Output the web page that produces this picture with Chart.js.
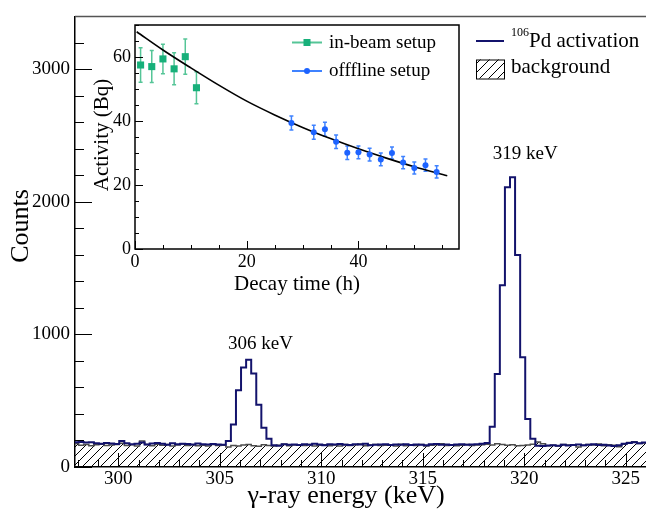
<!DOCTYPE html>
<html>
<head>
<meta charset="utf-8">
<script src="https://cdn.jsdelivr.net/npm/chart.js@4.4.1/dist/chart.umd.min.js"></script>
<style>
  html, body { margin: 0; padding: 0; background: #fff; }
  #wrap { position: relative; width: 646px; height: 512px; }
  canvas { position: absolute; left: 0; top: 0; }
</style>
</head>
<body>
<div id="wrap">
  <canvas id="spectrum" width="646" height="512"></canvas>
  <canvas id="decay" width="646" height="512"></canvas>
</div>
<script>
// gamma spectrum, 0.25 keV bins
const binLow = 297.8;
const binWidth = 0.25;
const activationCounts = [
  186, 188, 184, 187, 180, 176, 182, 178, 174,
  196, 180, 172, 176, 184, 170, 178, 181,
  175, 168, 180, 172, 176, 174, 170, 177,
  172, 169, 174, 170, 168,
  196, 321, 580, 750, 810, 705, 470, 296, 214,
  165, 160, 172, 168, 170, 166, 172, 168, 175, 170, 165, 172,
  170, 174, 168, 166, 172, 170, 176, 164, 168, 170, 172, 166, 170, 168,
  172, 166, 170, 168, 165, 172, 174, 168, 170, 166, 170, 172, 168, 170, 172, 175,
  181, 303, 702, 1372, 2111, 2186, 1599, 828, 363, 214, 160,
  158, 162, 165, 160, 168, 163, 166, 170, 164, 168, 172, 166, 168, 162, 158, 165, 176, 182, 186, 180, 184
];
const backgroundCounts = [
  178, 165, 170, 160, 168, 172, 162, 166, 170,
  180, 162, 168, 158, 196, 170, 160, 172,
  164, 170, 158, 166, 174, 162, 168, 160,
  165, 158, 170, 162, 164,
  150, 162, 158, 166, 170, 160, 156, 168, 162,
  158, 164, 172, 160, 166, 168, 162, 170, 158, 164, 168, 160,
  166, 158, 170, 162, 168, 174, 160, 166, 170, 162, 164, 168, 158, 172,
  160, 166, 162, 170, 158, 164, 168, 176, 162, 166, 160, 164, 170, 162, 166, 168,
  172, 166, 175, 170, 164, 168, 160, 162, 166, 172, 188,
  176, 160, 164, 158, 170, 166, 168, 150, 162, 170, 166, 174, 160, 168, 164, 152, 172, 184, 190, 178, 182
];
const energyTicks = [300, 305, 310, 315, 320, 325];
const countTicks = [0, 1000, 2000, 3000];

// decay curve inset
const inBeamTime = [1, 3, 5, 7, 9, 11];
const inBeamActivity = [57.5, 57.0, 59.4, 56.3, 60.1, 50.4];
const inBeamError = [5.4, 5.0, 4.6, 5.0, 5.5, 5.0];
const offlineTime = [28, 32, 34, 36, 38, 40, 42, 44, 46, 48, 50, 52, 54];
const offlineActivity = [39.4, 36.5, 37.4, 33.5, 30.1, 30.2, 29.5, 28.0, 30.0, 27.0, 25.3, 26.2, 24.1];
const offlineError = [2.2, 2.2, 2.2, 2.1, 2.1, 2.0, 2.0, 2.0, 1.9, 1.9, 1.9, 1.9, 1.9];
const fitTime = [0.3, 5, 10, 15, 20, 25, 30, 35, 40, 45, 50, 55.9];
const fitActivity = [67.9, 62.2, 56.6, 51.2, 46.2, 41.9, 38.0, 34.5, 31.3, 28.4, 25.7, 22.9];
const timeTicks = [0, 20, 40];
const activityTicks = [0, 20, 40, 60];

const SERIF = '"Liberation Serif", "Times New Roman", serif';
Chart.defaults.font.family = SERIF;
Chart.defaults.color = '#000';

const NAVY = '#13136c';
const GREEN = '#17b07a';
const BLUE = '#1d63ff';

const hatch = (() => {
  const s = 9;
  const c = document.createElement('canvas');
  c.width = c.height = s;
  const g = c.getContext('2d');
  g.strokeStyle = '#000';
  g.lineWidth = 1;
  g.beginPath();
  g.moveTo(0, s); g.lineTo(s, 0);
  g.moveTo(-1, 1); g.lineTo(1, -1);
  g.moveTo(s - 1, s + 1); g.lineTo(s + 1, s - 1);
  g.stroke();
  return g.createPattern(c, 'repeat');
})();

function histPoints(counts) {
  const pts = counts.map((c, i) => ({x: binLow + i * binWidth, y: c}));
  pts.push({x: binLow + counts.length * binWidth, y: counts[counts.length - 1]});
  return pts;
}

function xy(xs, ys) {
  return xs.map((v, i) => ({x: v, y: ys[i]}));
}

function fixedTicks(values) {
  return (scale) => { scale.ticks = values.map((v) => ({value: v})); };
}

const plainLabel = (v) => String(v);

// ROOT-like ticks pointing into the frame
const innerTicks = {
  id: 'innerTicks',
  afterDatasetsDraw(chart, args, o) {
    const {ctx, chartArea: a, scales: {x, y}} = chart;
    ctx.save();
    ctx.strokeStyle = '#000';
    ctx.lineWidth = 1;
    ctx.beginPath();
    for (let v = Math.ceil(x.min / o.xStep) * o.xStep; v <= x.max + 1e-6; v += o.xStep) {
      const p = Math.round(x.getPixelForValue(v)) + 0.5;
      const len = Math.abs(v % o.xMajor) < 1e-6 ? o.xMajorLen : o.xMinorLen;
      ctx.moveTo(p, a.bottom);
      ctx.lineTo(p, a.bottom - len);
    }
    for (let v = y.min; v <= y.max + 1e-6; v += o.yStep) {
      const p = Math.round(y.getPixelForValue(v)) + 0.5;
      const len = Math.abs(v % o.yMajor) < 1e-6 ? o.yMajorLen : o.yMinorLen;
      ctx.moveTo(a.left, p);
      ctx.lineTo(a.left + len, p);
    }
    ctx.stroke();
    if (o.frame) {
      ctx.lineWidth = 1.5;
      ctx.strokeRect(a.left, a.top, a.right - a.left, a.bottom - a.top);
    }
    if (o.topLine) {
      ctx.strokeStyle = '#555';
      ctx.lineWidth = 1.5;
      ctx.beginPath();
      ctx.moveTo(a.left, a.top);
      ctx.lineTo(a.right, a.top);
      ctx.stroke();
    }
    ctx.restore();
  }
};

// free text: axis titles and peak labels
const texts = {
  id: 'texts',
  afterDraw(chart, args, o) {
    const {ctx} = chart;
    ctx.save();
    ctx.fillStyle = '#000';
    ctx.textBaseline = 'alphabetic';
    o.items.forEach((t) => {
      ctx.save();
      ctx.font = `${t.size}px ${SERIF}`;
      ctx.translate(t.x, t.y);
      if (t.rotate) ctx.rotate(t.rotate);
      ctx.textAlign = 'center';
      ctx.fillText(t.text, 0, 0);
      ctx.restore();
    });
    ctx.restore();
  }
};

const spectrumLegend = {
  id: 'spectrumLegend',
  afterDraw(chart, args, o) {
    const {ctx} = chart;
    const [act, bkg] = chart.data.datasets;
    ctx.save();
    ctx.strokeStyle = act.borderColor;
    ctx.lineWidth = act.borderWidth;
    ctx.beginPath();
    ctx.moveTo(o.x, o.y1);
    ctx.lineTo(o.x + o.w, o.y1);
    ctx.stroke();
    ctx.fillStyle = bkg.backgroundColor;
    ctx.fillRect(o.x, o.y2 - o.h / 2, o.w, o.h);
    ctx.strokeStyle = '#000';
    ctx.lineWidth = 1;
    ctx.strokeRect(o.x + 0.5, o.y2 - o.h / 2 + 0.5, o.w, o.h);
    ctx.fillStyle = '#000';
    ctx.textAlign = 'left';
    ctx.textBaseline = 'alphabetic';
    const tx = o.x + o.w + 7;
    ctx.font = `12px ${SERIF}`;
    ctx.fillText(act.sup, tx, o.y1 - 5.5);
    const sw = ctx.measureText(act.sup).width;
    ctx.font = `21px ${SERIF}`;
    ctx.fillText(act.label, tx + sw, o.y1 + 5.5);
    ctx.fillText(bkg.label, tx, o.y2 + 4);
    ctx.restore();
  }
};

new Chart(document.getElementById('spectrum'), {
  type: 'line',
  data: {
    datasets: [
      {
        label: 'Pd activation',
        sup: '106',
        data: histPoints(activationCounts),
        stepped: true,
        borderColor: NAVY,
        borderWidth: 2,
        pointRadius: 0,
        fill: false,
        order: 0
      },
      {
        label: 'background',
        data: histPoints(backgroundCounts),
        stepped: true,
        borderColor: '#4d4d4d',
        borderWidth: 1.5,
        backgroundColor: hatch,
        pointRadius: 0,
        fill: 'origin',
        order: 1
      }
    ]
  },
  options: {
    responsive: false,
    animation: false,
    events: [],
    layout: {padding: {top: 11, right: 0, left: 0, bottom: 0}},
    scales: {
      x: {
        type: 'linear',
        min: 297.87,
        max: 326,
        afterFit: (s) => { s.height = 45; },
        afterBuildTicks: fixedTicks(energyTicks),
        grid: {display: false, drawTicks: false},
        border: {display: true, color: '#000', width: 1.5},
        ticks: {padding: 1, maxRotation: 0, font: {size: 19}, color: '#000', callback: plainLabel}
      },
      y: {
        min: 0,
        max: 3400,
        afterFit: (s) => { s.width = 75; },
        afterBuildTicks: fixedTicks(countTicks),
        grid: {display: false, drawTicks: false},
        border: {display: true, color: '#000', width: 1.5},
        ticks: {padding: 5, font: {size: 19}, color: '#000', callback: plainLabel}
      }
    },
    plugins: {
      legend: {display: false},
      tooltip: {enabled: false},
      innerTicks: {xStep: 1, xMajor: 5, xMajorLen: 14, xMinorLen: 7,
        yStep: 200, yMajor: 1000, yMajorLen: 17, yMinorLen: 9, topLine: true},
      texts: {items: [
        {text: 'γ-ray energy (keV)', x: 346, y: 503, size: 26},
        {text: 'Counts', x: 28, y: 226, size: 26, rotate: -Math.PI / 2},
        {text: '306 keV', x: 260.5, y: 348.5, size: 19},
        {text: '319 keV', x: 525.3, y: 159.3, size: 19}
      ]},
      spectrumLegend: {x: 476, w: 28, h: 19, y1: 41, y2: 69}
    }
  },
  plugins: [innerTicks, texts, spectrumLegend]
});

// error bars drawn under the markers
const errorBars = {
  id: 'errorBars',
  beforeDatasetsDraw(chart) {
    const {ctx, scales: {x, y}} = chart;
    chart.data.datasets.forEach((ds) => {
      if (!ds.errors) return;
      ctx.save();
      ctx.strokeStyle = ds.errorColor;
      ctx.lineWidth = 1.5;
      ctx.beginPath();
      ds.data.forEach((p, i) => {
        const px = x.getPixelForValue(p.x);
        const lo = y.getPixelForValue(p.y - ds.errors[i]);
        const hi = y.getPixelForValue(p.y + ds.errors[i]);
        ctx.moveTo(px, lo); ctx.lineTo(px, hi);
        ctx.moveTo(px - 2, lo); ctx.lineTo(px + 2, lo);
        ctx.moveTo(px - 2, hi); ctx.lineTo(px + 2, hi);
      });
      ctx.stroke();
      ctx.restore();
    });
  }
};

const whiteArea = {
  id: 'whiteArea',
  beforeDraw(chart) {
    const {ctx, chartArea: a} = chart;
    ctx.save();
    ctx.fillStyle = '#fff';
    ctx.fillRect(a.left, a.top, a.right - a.left, a.bottom - a.top);
    ctx.restore();
  }
};

const decayLegend = {
  id: 'decayLegend',
  afterDraw(chart, args, o) {
    const {ctx} = chart;
    const shown = chart.data.datasets.filter((ds) => ds.inLegend);
    ctx.save();
    shown.forEach((ds, i) => {
      const y = o.y + i * o.gap;
      ctx.strokeStyle = ds.errorColor;
      ctx.lineWidth = 2;
      ctx.beginPath();
      ctx.moveTo(o.x, y);
      ctx.lineTo(o.x + o.w, y);
      ctx.stroke();
      ctx.fillStyle = ds.backgroundColor;
      if (ds.pointStyle === 'rect') {
        ctx.fillRect(o.x + o.w / 2 - 3.5, y - 3.5, 7, 7);
      } else {
        ctx.beginPath();
        ctx.arc(o.x + o.w / 2, y, 3, 0, Math.PI * 2);
        ctx.fill();
      }
      ctx.fillStyle = '#000';
      ctx.font = `19px ${SERIF}`;
      ctx.textAlign = 'left';
      ctx.textBaseline = 'alphabetic';
      ctx.fillText(ds.label, o.x + o.w + 7, y + 5);
    });
    ctx.restore();
  }
};

new Chart(document.getElementById('decay'), {
  type: 'line',
  data: {
    datasets: [
      {
        label: 'in-beam setup',
        data: xy(inBeamTime, inBeamActivity),
        errors: inBeamError,
        errorColor: '#55c597',
        inLegend: true,
        showLine: false,
        pointStyle: 'rect',
        pointRadius: 5,
        backgroundColor: GREEN,
        borderColor: GREEN,
        borderWidth: 0
      },
      {
        label: 'offfline setup',
        data: xy(offlineTime, offlineActivity),
        errors: offlineError,
        errorColor: '#3f82ff',
        inLegend: true,
        showLine: false,
        pointStyle: 'circle',
        pointRadius: 3,
        backgroundColor: BLUE,
        borderColor: BLUE,
        borderWidth: 0
      },
      {
        label: 'fit',
        data: xy(fitTime, fitActivity),
        borderColor: '#000',
        borderWidth: 1.6,
        pointRadius: 0,
        cubicInterpolationMode: 'monotone',
        fill: false
      }
    ]
  },
  options: {
    responsive: false,
    animation: false,
    events: [],
    layout: {padding: {left: 95, top: 25, right: 187, bottom: 223}},
    scales: {
      x: {
        type: 'linear',
        min: 0,
        max: 58,
        afterFit: (s) => { s.height = 40; },
        afterBuildTicks: fixedTicks(timeTicks),
        grid: {display: false, drawTicks: false},
        border: {display: false},
        ticks: {padding: 2, maxRotation: 0, font: {size: 18}, color: '#000', callback: plainLabel}
      },
      y: {
        min: 0,
        max: 70,
        afterFit: (s) => { s.width = 40; },
        afterBuildTicks: fixedTicks(activityTicks),
        grid: {display: false, drawTicks: false},
        border: {display: false},
        ticks: {padding: 4, font: {size: 18}, color: '#000', callback: plainLabel}
      }
    },
    plugins: {
      legend: {display: false},
      tooltip: {enabled: false},
      innerTicks: {xStep: 5, xMajor: 20, xMajorLen: 8, xMinorLen: 4,
        yStep: 5, yMajor: 20, yMajorLen: 8, yMinorLen: 4, frame: true},
      texts: {items: [
        {text: 'Decay time (h)', x: 297, y: 289.5, size: 21},
        {text: 'Activity (Bq)', x: 108, y: 135, size: 21, rotate: -Math.PI / 2}
      ]},
      decayLegend: {x: 292, w: 30, y: 42.5, gap: 28.5}
    }
  },
  plugins: [whiteArea, errorBars, innerTicks, texts, decayLegend]
});
</script>
</body>
</html>
